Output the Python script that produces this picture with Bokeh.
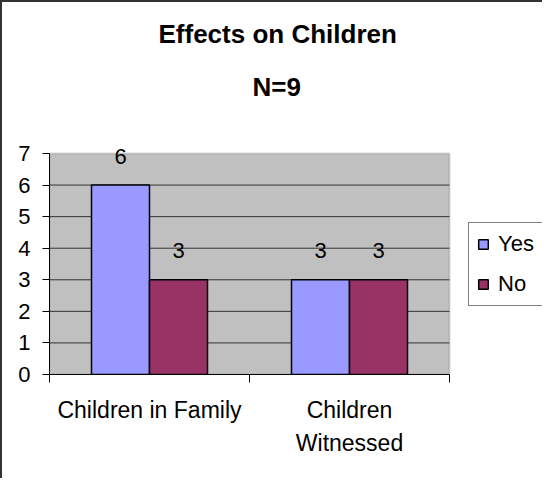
from bokeh.plotting import figure
from bokeh.models import (Range1d, FixedTicker, Legend, LegendItem, Title, ColumnDataSource,
                          BoxAnnotation)
from bokeh.core.properties import value
from bokeh.embed import file_html
from bokeh.resources import INLINE

# ---- data ----
categories = ["Children in Family", "Children\nWitnessed"]
series_names = ["Yes", "No"]
yes_values = [6, 3]
no_values = [3, 3]
y_ticks = [0, 1, 2, 3, 4, 5, 6, 7]
title_text = "Effects on Children"
subtitle_text = "N=9"

FONT = "Liberation Sans"
YES_COLOR = "#9999FF"
NO_COLOR = "#993366"
BAR_W = 0.29

W, H = 542, 478
LEFT, RIGHT, TOP, BOTTOM = 47, 2, 121, 106
PLOT_PX_W = 400   # pixel width of the category area
PLOT_PX_H = 221   # pixel height of the 0..7 value area
n = len(categories)
y_max = y_ticks[-1]
x_end = n * (W - LEFT - RIGHT) / PLOT_PX_W
y_end = y_max * (H - TOP - BOTTOM) / PLOT_PX_H

p = figure(width=W, height=H, output_backend="svg", toolbar_location=None,
           x_range=Range1d(0, x_end), y_range=Range1d(y_ticks[0], y_end),
           min_border_left=LEFT, min_border_right=RIGHT, min_border_top=TOP,
           min_border_bottom=BOTTOM)
p.styles = {"border-left": "2px solid #333333", "border-top": "2px solid #333333"}

p.background_fill_color = "white"
p.border_fill_color = "white"
p.outline_line_color = None
p.xgrid.visible = False
p.ygrid.visible = False

# plot area (gray) limited to the category span and value span
p.add_layout(BoxAnnotation(left=0, right=n, bottom=y_ticks[0], top=y_max,
                           fill_color="#C0C0C0", fill_alpha=1,
                           line_color="#808080", line_width=2, level="underlay"))

# gridlines
grid_y = y_ticks[1:-1]
p.segment(x0=[0] * len(grid_y), x1=[n] * len(grid_y), y0=grid_y, y1=grid_y,
          line_color="#333333", line_width=1)

centers = [i + 0.5 for i in range(n)]
yes_x = [c - BAR_W / 2 for c in centers]
no_x = [c + BAR_W / 2 for c in centers]

src_yes = ColumnDataSource(dict(x=yes_x, top=yes_values, lbl=[str(v) for v in yes_values]))
src_no = ColumnDataSource(dict(x=no_x, top=no_values, lbl=[str(v) for v in no_values]))

r_yes = p.vbar(x="x", top="top", bottom=0, width=BAR_W, source=src_yes,
               fill_color=YES_COLOR, line_color="black", line_width=1.5)
r_no = p.vbar(x="x", top="top", bottom=0, width=BAR_W, source=src_no,
              fill_color=NO_COLOR, line_color="black", line_width=1.5)

for src in (src_yes, src_no):
    p.text(x="x", y="top", text="lbl", source=src, text_align="center",
           text_baseline="alphabetic", y_offset=-29, text_color="black",
           text_font=value(FONT), text_font_size="22px")

# y axis
ya = p.yaxis[0]
ya.bounds = (y_ticks[0], y_max)
ya.ticker = FixedTicker(ticks=y_ticks)
ya.axis_line_color = "black"
ya.major_tick_line_color = "black"
ya.major_tick_out = 7
ya.major_tick_in = 0
ya.minor_tick_line_color = None
ya.major_label_standoff = 12
ya.major_label_text_font = FONT
ya.major_label_text_font_size = "22px"
ya.major_label_text_color = "black"

# x axis: labels at centers, ticks at category boundaries
xa = p.xaxis[0]
xa.bounds = (0, n)
xa.ticker = FixedTicker(ticks=centers, minor_ticks=list(range(n + 1)))
xa.major_label_overrides = {c: cat for c, cat in zip(centers, categories)}
xa.axis_line_color = "black"
xa.major_tick_line_color = None
xa.major_tick_out = 0
xa.major_tick_in = 0
xa.minor_tick_line_color = "black"
xa.minor_tick_out = 8
xa.minor_tick_in = 0
xa.major_label_standoff = 14
xa.major_label_text_font = FONT
xa.major_label_text_font_size = "23px"
xa.major_label_text_color = "black"
xa.major_label_text_line_height = 1.29

# legend
legend = Legend(items=[LegendItem(label=series_names[0], renderers=[r_yes]),
                       LegendItem(label=series_names[1], renderers=[r_no])],
                location=(419, 68), orientation="vertical",
                label_text_font=FONT, label_text_font_size="22px", label_text_color="black",
                border_line_color="black", border_line_width=1,
                background_fill_color="white", background_fill_alpha=1,
                glyph_width=12, glyph_height=12, padding=8, spacing=14,
                label_standoff=9, label_height=26, margin=0)
p.add_layout(legend)

# titles
p.title.text = title_text
p.title.align = "left"
p.title.offset = 109
p.title.text_font = FONT
p.title.text_font_style = "bold"
p.title.text_font_size = "26px"
p.title.text_color = "black"
p.title.standoff = -3

sub = Title(text=subtitle_text, align="left", offset=203, text_font=FONT,
            text_font_style="bold", text_font_size="26px", text_color="black", standoff=44)
p.add_layout(sub, "above")

open("out.html", "w").write(file_html(p, INLINE))
